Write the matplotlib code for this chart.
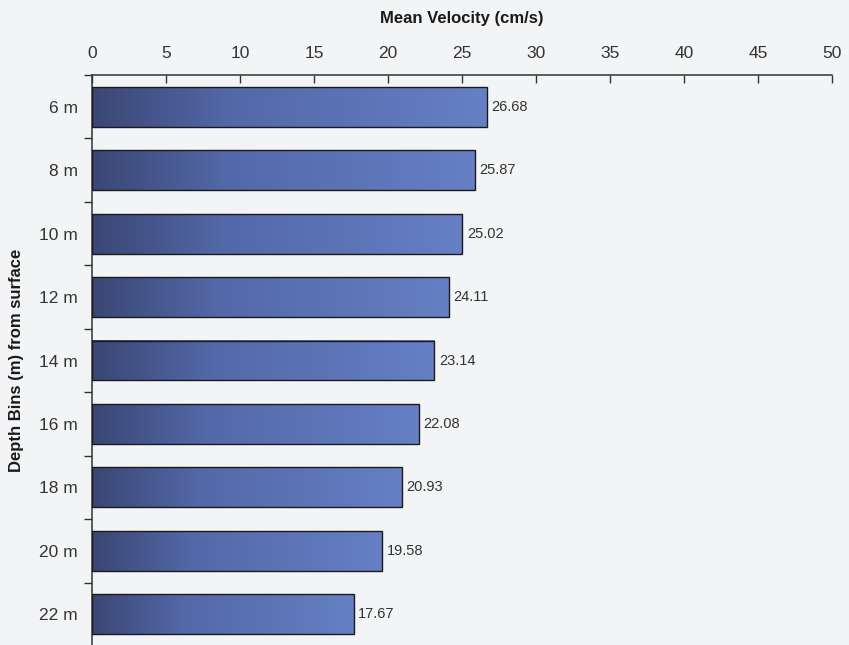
import numpy as np
import matplotlib
matplotlib.use('Agg')
import matplotlib.pyplot as plt
from matplotlib.colors import LinearSegmentedColormap

plt.rcParams.update({'font.family': ['Liberation Sans', 'DejaVu Sans']})

depths = ['6 m', '8 m', '10 m', '12 m', '14 m', '16 m', '18 m', '20 m', '22 m']
velocity = [26.68, 25.87, 25.02, 24.11, 23.14, 22.08, 20.93, 19.58, 17.67]
xticks = [0, 5, 10, 15, 20, 25, 30, 35, 40, 45, 50]

BG = '#f3f4f6'
# dark navy at the base, easing into a flat mid blue along the bar
bar_cmap = LinearSegmentedColormap.from_list(
    'bars', [(0.0, '#3a4774'), (0.35, '#5368a8'), (1.0, '#6580c4')])

fig = plt.figure(figsize=(8.49, 6.45), dpi=100, facecolor=BG)
ax = fig.add_axes([92/849, -1/645, 740/849, 571/645])
ax.set_facecolor(BG)

ypos = np.arange(len(depths))
bh = 0.63
grad = np.linspace(0, 1, 256).reshape(1, -1)
for y, v in zip(ypos, velocity):
    ax.imshow(grad, cmap=bar_cmap, aspect='auto', interpolation='bicubic',
              extent=(0, v, y + bh/2, y - bh/2), zorder=2)
    ax.add_patch(plt.Rectangle((0, y - bh/2), v, bh, fill=False,
                               edgecolor='#1a1a1a', lw=1.0, zorder=3))
    ax.text(v + 0.32, y, f'{v:.2f}', va='center', ha='left',
            fontsize=10.5, color='#333333')

ax.set_xlim(0, 50)
ax.set_ylim(len(depths) - 0.5, -0.5)

ax.xaxis.tick_top()
ax.xaxis.set_label_position('top')
ax.set_xticks(xticks)
ax.tick_params(axis='x', direction='in', length=6, width=1, colors='#333333',
               labelsize=12.5, pad=10)
ax.set_xlabel('Mean Velocity (cm/s)', fontsize=12, fontweight='bold',
              color='#1a1a1a', labelpad=17)

ax.set_yticks(ypos)
ax.set_yticklabels(depths)
ax.set_yticks(np.arange(-0.5, len(depths)), minor=True)
ax.tick_params(axis='y', which='major', length=0, labelsize=12.5,
               colors='#333333', pad=10)
ax.tick_params(axis='y', which='minor', length=6, width=1, color='#333333')
ax.set_ylabel('Depth Bins (m) from surface', fontsize=12, fontweight='bold',
              color='#1a1a1a', labelpad=11)

for side in ['right', 'bottom']:
    ax.spines[side].set_visible(False)
for side in ['top', 'left']:
    ax.spines[side].set_color('#333333')
    ax.spines[side].set_linewidth(1.1)

fig.savefig('out.png', dpi=100, facecolor=BG)
